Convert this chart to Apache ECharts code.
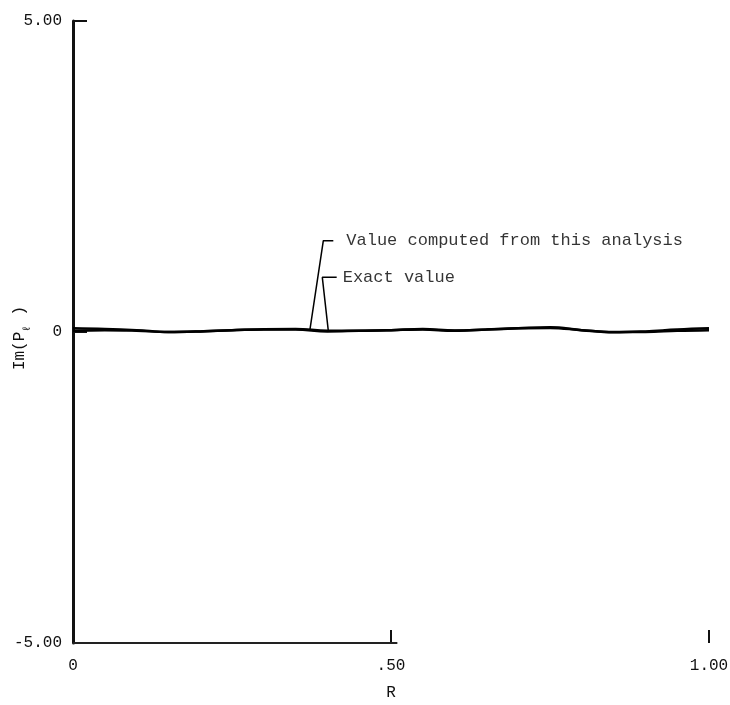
<!DOCTYPE html>
<html>
<head>
<meta charset="utf-8">
<script src="https://cdn.jsdelivr.net/npm/echarts@6/dist/echarts.min.js"></script>
<style>html,body{margin:0;padding:0;background:#fff;}#c{width:730px;height:705px;}</style>
</head>
<body>
<div id="c"></div>
<script>
// ---- data ----
var rValues = [0, 0.05, 0.1, 0.15, 0.2, 0.25, 0.3, 0.35, 0.4, 0.45, 0.5, 0.55, 0.6, 0.65, 0.7, 0.75, 0.8, 0.85, 0.9, 0.95, 1.0];
var computedValues = [0.06, 0.05, 0.03, 0.0, 0.01, 0.03, 0.045, 0.05, 0.02, 0.02, 0.03, 0.05, 0.025, 0.04, 0.06, 0.075, 0.03, -0.005, 0.01, 0.04, 0.06];
var exactValues    = [0.02, 0.03, 0.02, 0.0, 0.01, 0.03, 0.04, 0.04, 0.01, 0.02, 0.03, 0.04, 0.02, 0.04, 0.06, 0.065, 0.03, 0.0, 0.0, 0.02, 0.03];
var xTickValues = [0, 0.5, 1.0];
var xTickLabels = ['0', '.50', '1.00'];
var yTickValues = [-5, 0, 5];
var yTickLabels = ['-5.00', '0', '5.00'];
var baselineR = [0, 0.51];
var leaderComputed = [[0.3726, 0.043], [0.3936, 1.468], [0.4093, 1.468]];
var leaderExact = [[0.4014, 0.021], [0.392, 0.879], [0.4146, 0.879]];
var labelComputed = 'Value computed from this analysis';
var labelExact = 'Exact value';
var xName = 'R';
var yNameMain = 'Im(P';
var yNameSub = 'ℓ';
var yNameEnd = ' )';

var FONT = '"Liberation Mono", "DejaVu Sans Mono", monospace';
function pairs(xs, ys) { return xs.map(function (x, i) { return [x, ys[i]]; }); }

var chart = echarts.init(document.getElementById('c'), null, {renderer: 'canvas'});
chart.setOption({
  animation: false,
  backgroundColor: '#fff',
  grid: {left: 73, right: 21, top: 21, bottom: 62, containLabel: false, outerBoundsMode: 'none'},
  graphic: [{
    type: 'text', x: 20, y: 338, rotation: Math.PI / 2,
    style: {
      text: '{m|' + yNameMain + '}{s|' + yNameSub + '}{m|' + yNameEnd + '}',
      align: 'center', verticalAlign: 'middle',
      rich: {
        m: {fontFamily: FONT, fontSize: 16, fill: '#111', lineHeight: 16, verticalAlign: 'top'},
        s: {fontFamily: FONT, fontSize: 11, fill: '#111', lineHeight: 11, verticalAlign: 'top', padding: [10, 0, 0, 0]}
      }
    }
  }],
  xAxis: {
    type: 'value', min: 0, max: 1, interval: 0.5,
    name: xName, nameLocation: 'middle', nameGap: 42,
    nameTextStyle: {fontFamily: FONT, fontSize: 16, color: '#111'},
    axisLine: {show: false, onZero: false},
    axisTick: {show: true, inside: true, length: 13, lineStyle: {color: '#111', width: 2}},
    splitLine: {show: false},
    axisLabel: {
      margin: 15, fontFamily: FONT, fontSize: 16, color: '#111',
      formatter: function (v) { var i = xTickValues.indexOf(v); return i >= 0 ? xTickLabels[i] : ''; }
    }
  },
  yAxis: {
    type: 'value', min: -5, max: 5, interval: 5,
    axisLine: {show: true, onZero: false, lineStyle: {color: '#111', width: 3}},
    axisTick: {show: true, inside: true, length: 14, lineStyle: {color: '#111', width: 2}},
    splitLine: {show: false},
    axisLabel: {
      margin: 11, fontFamily: FONT, fontSize: 16, color: '#111',
      formatter: function (v) { var i = yTickValues.indexOf(v); return i >= 0 ? yTickLabels[i] : ''; }
    }
  },
  series: [
    {type: 'line', name: 'baseline', data: baselineR.map(function (r) { return [r, -5]; }),
     symbol: 'none', clip: false, lineStyle: {color: '#222', width: 2}, silent: true},
    {type: 'line', name: 'Exact value', data: pairs(rValues, exactValues), smooth: 0.4,
     symbol: 'none', clip: false, lineStyle: {color: '#000', width: 2.5}},
    {type: 'line', name: 'Value computed', data: pairs(rValues, computedValues), smooth: 0.4,
     symbol: 'none', clip: false, lineStyle: {color: '#000', width: 2.5}},
    {type: 'line', name: 'leader1', data: leaderComputed, symbol: 'none', clip: false,
     lineStyle: {color: '#000', width: 1.5}},
    {type: 'line', name: 'leader2', data: leaderExact, symbol: 'none', clip: false,
     lineStyle: {color: '#000', width: 1.5}},
    {type: 'scatter', name: 'labels', symbolSize: 0, clip: false,
     data: [
       {value: leaderComputed[2], label: {formatter: labelComputed, distance: 13}},
       {value: leaderExact[2], label: {formatter: labelExact, distance: 6}}
     ],
     label: {show: true, position: 'right', fontFamily: FONT, fontSize: 17, color: '#000'}}
  ]
});
</script>
</body>
</html>
